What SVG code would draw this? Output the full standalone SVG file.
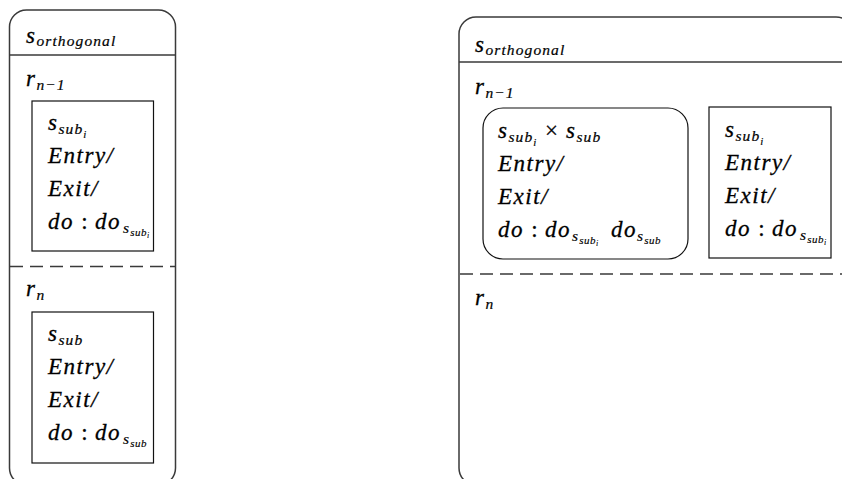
<svg xmlns="http://www.w3.org/2000/svg" width="842" height="479" viewBox="0 0 842 479">
  <style>
    .outer { fill: none; stroke: #3a3a3a; stroke-width: 1.5; }
    .sep { fill: none; stroke: #3a3a3a; stroke-width: 1.5; }
    .dash { fill: none; stroke: #3a3a3a; stroke-width: 1.5; stroke-dasharray: 13 7; }
    .box { fill: none; stroke: #111; stroke-width: 1.2; }
    text { font-family: 'Liberation Serif', 'Times New Roman', serif; font-style: italic; font-size: 23px; letter-spacing: 1.5px; fill: #000; stroke: #000; stroke-width: 0.3px; }
    .s1 { font-size: 15.5px; letter-spacing: 1.1px; stroke-width: 0.2px; }
    .s2 { font-size: 11px; letter-spacing: 0.5px; stroke-width: 0.15px; }
    .s3 { font-size: 8px; letter-spacing: 0; stroke-width: 0.1px; }
    .up { font-style: normal; letter-spacing: 0; }
  </style>

  <!-- Left: orthogonal state with two regions -->
  <g id="left-orthogonal">
    <rect class="outer" x="9.5" y="10" width="166" height="475" rx="17" ry="17"/>
    <line class="sep" x1="9.5" y1="55" x2="175.5" y2="55"/>
    <line class="dash" x1="10" y1="266.5" x2="175.5" y2="266.5"/>
    <text x="26" y="43">s<tspan class="s1" dy="2.5">orthogonal</tspan></text>
    <text x="26" y="86">r<tspan class="s1" dy="4">n−1</tspan></text>
    <text x="26" y="296">r<tspan class="s1" dy="4">n</tspan></text>
  </g>

  <g id="left-sub-i">
    <rect class="box" x="32" y="101" width="121.5" height="150"/>
    <text x="48" y="130">s<tspan class="s1" dy="3.5">sub</tspan><tspan class="s2" dy="4">i</tspan></text>
    <text x="48" y="163">Entry/</text>
    <text x="48" y="196">Exit/</text>
    <text x="48" y="229">do <tspan class="up">:</tspan> do<tspan class="s1" x="123" dy="4">s</tspan><tspan class="s2" dy="3">sub</tspan><tspan class="s3" dy="2">i</tspan></text>
  </g>

  <g id="left-sub">
    <rect class="box" x="32" y="312" width="121.5" height="151"/>
    <text x="48" y="341">s<tspan class="s1" dy="3.5">sub</tspan></text>
    <text x="48" y="374">Entry/</text>
    <text x="48" y="407">Exit/</text>
    <text x="48" y="440">do <tspan class="up">:</tspan> do<tspan class="s1" x="123" dy="4">s</tspan><tspan class="s2" dy="3">sub</tspan></text>
  </g>

  <!-- Right: orthogonal state with combined sub-state -->
  <g id="right-orthogonal">
    <rect class="outer" x="459" y="17" width="394" height="468" rx="17" ry="17"/>
    <line class="sep" x1="459" y1="62" x2="842" y2="62"/>
    <line class="dash" x1="460" y1="274" x2="842" y2="274"/>
    <text x="475" y="52">s<tspan class="s1" dy="2.5">orthogonal</tspan></text>
    <text x="475" y="94">r<tspan class="s1" dy="4">n−1</tspan></text>
    <text x="475" y="305">r<tspan class="s1" dy="4">n</tspan></text>
  </g>

  <g id="right-product">
    <rect class="box" x="483" y="108" width="205" height="151" rx="20" ry="20"/>
    <text x="498" y="138">s<tspan class="s1" dy="3.5">sub</tspan><tspan class="s2" dy="4">i</tspan><tspan class="up" x="545" dy="-7.5">×</tspan><tspan x="566">s</tspan><tspan class="s1" dy="3.5">sub</tspan></text>
    <text x="498" y="171">Entry/</text>
    <text x="498" y="204">Exit/</text>
    <text x="498" y="237">do <tspan class="up">:</tspan> do<tspan class="s1" x="572" dy="4">s</tspan><tspan class="s2" dy="3">sub</tspan><tspan class="s3" dy="2">i</tspan><tspan x="611" dy="-9">do</tspan><tspan class="s1" x="637" dy="4">s</tspan><tspan class="s2" dy="3">sub</tspan></text>
  </g>

  <g id="right-sub-i">
    <rect class="box" x="709" y="107" width="122" height="151"/>
    <text x="725" y="137">s<tspan class="s1" dy="3.5">sub</tspan><tspan class="s2" dy="4">i</tspan></text>
    <text x="725" y="170">Entry/</text>
    <text x="725" y="203">Exit/</text>
    <text x="725" y="236">do <tspan class="up">:</tspan> do<tspan class="s1" x="800" dy="4">s</tspan><tspan class="s2" dy="3">sub</tspan><tspan class="s3" dy="2">i</tspan></text>
  </g>
</svg>
